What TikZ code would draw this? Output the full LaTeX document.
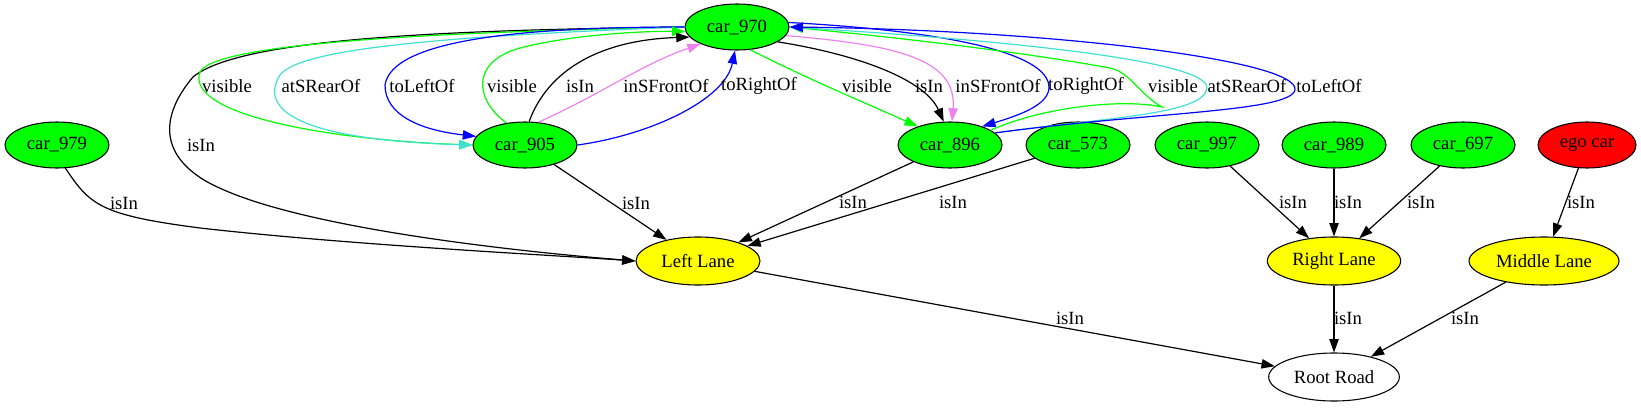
\documentclass[tikz,border=0pt]{standalone}
\usepackage{fontspec}
\setmainfont{Liberation Serif}
\usetikzlibrary{shapes,arrows.meta,positioning}
\definecolor{xgreen}{RGB}{0,255,0}
\definecolor{xturq}{RGB}{64,224,208}
\definecolor{xviolet}{RGB}{238,130,238}
\definecolor{xred}{RGB}{255,0,0}
\definecolor{xyellow}{RGB}{255,255,0}

\begin{document}
\begin{tikzpicture}[x=0.75pt,y=-0.75pt,
    every node/.style={font=\fontsize{14}{16}\selectfont},
    car/.style={ellipse,draw,fill=xgreen,line width=0.8pt,minimum width=78pt,minimum height=34.5pt,inner sep=0pt},
    lane/.style={ellipse,draw,fill=xyellow,line width=0.8pt,minimum height=36pt,inner sep=0pt},
    lbl/.style={text=black,inner sep=0pt},
    edge/.style={line width=0.9pt,-{Triangle[length=10pt,width=7pt]}}]
    \useasboundingbox (0,0) rectangle (1641,407);
    % cars
    \node[car] (car970) at (737,27) {car\_970};
    \node[car] (car979) at (57,145) {car\_979};
    \node[car] (car905) at (525,145) {car\_905};
    \node[car] (car896) at (950,145) {car\_896};
    \node[car] (car573) at (1078,145) {car\_573};
    \node[car] (car997) at (1207,145) {car\_997};
    \node[car] (car989) at (1334,145) {car\_989};
    \node[car] (car697) at (1463,145) {car\_697};
    \node[car,fill=xred,minimum width=73.5pt] (egocar) at (1587,145) {ego car};
    % lanes
    \node[lane,minimum width=93pt] (leftlane) at (698,261) {Left Lane};
    \node[lane,minimum width=100pt] (rightlane) at (1334,261) {Right Lane};
    \node[lane,minimum width=112.5pt] (middlelane) at (1544,261) {Middle Lane};
    \node[lane,fill=white,minimum width=98pt] (rootroad) at (1334,377) {Root Road};

    % car_970 -> left side
    \draw[edge] (car970.west) .. controls (450,30) and (240,38) .. (193,77)
        .. controls (165,110) and (155,150) .. (204,180)
        .. controls (280,225) and (500,250) .. (leftlane.west) node[lbl] at (201,145) {isIn};
    \draw[edge,xgreen] (car970.west) .. controls (450,32) and (215,42) .. (200,72)
        .. controls (185,115) and (330,140) .. (car905.west) node[lbl] at (227,86) {visible};
    \draw[edge,xturq] (car970.west) .. controls (450,36) and (300,48) .. (280,75)
        .. controls (258,110) and (300,140) .. (car905.west) node[lbl] at (321,86) {atSRearOf};
    \draw[edge,blue] (car970.west) .. controls (520,27) and (392,40) .. (385,85)
        .. controls (385,115) and (420,130) .. (car905.170) node[lbl] at (422,86) {toLeftOf};
    % car_905 -> car_970
    \draw[edge,xgreen] (car905.130) .. controls (475,100) and (470,62) .. (520,48)
        .. controls (570,35) and (640,31) .. (car970.185) node[lbl] at (512,86) {visible};
    \draw[edge] (car905.80) .. controls (548,70) and (600,40) .. (car970.192) node[lbl] at (580,86) {isIn};
    \draw[edge,xviolet] (car905.60) .. controls (600,95) and (640,65) .. (car970.205) node[lbl] at (666,86) {inSFrontOf};
    \draw[edge,blue] (car905.east) .. controls (650,135) and (725,100) .. (car970.265) node[lbl] at (759,86) {toRightOf};
    % car_970 -> car_896
    \draw[edge,xgreen] (car970.300) .. controls (810,80) and (870,105) .. (car896.150) node[lbl] at (867,86) {visible};
    \draw[edge] (car970.340) .. controls (860,55) and (925,80) .. (car896.105) node[lbl] at (929,86) {isIn};
    \draw[edge,xviolet] (car970.350) .. controls (900,45) and (957,60) .. (car896.85) node[lbl] at (998,86) {inSFrontOf};
    \draw[edge,blue] (car970.5) .. controls (930,30) and (1050,50) .. (1049,88)
        .. controls (1048,105) and (1020,115) .. (car896.30) node[lbl] at (1086,86) {toRightOf};
    % car_896 -> car_970
    \draw[edge,xgreen] (car896.20) .. controls (1040,108) and (1120,98) .. (1162,107)
        .. controls (1140,95) and (1130,72) .. (1110,68)
        .. controls (1000,48) and (850,33) .. (car970.east) node[lbl] at (1173,86) {visible};
    \draw[edge,xturq] (car896.15) .. controls (1100,118) and (1205,115) .. (1207,88)
        .. controls (1208,60) and (1000,40) .. (car970.east) node[lbl] at (1247,86) {atSRearOf};
    \draw[edge,blue] (car896.15) .. controls (1150,112) and (1290,112) .. (1295,90)
        .. controls (1300,60) and (1050,30) .. (car970.east) node[lbl] at (1329,86) {toLeftOf};

    % isIn lanes
    \draw[edge] (car979.290) .. controls (90,205) and (100,215) .. (200,228)
        .. controls (350,245) and (550,255) .. (leftlane.west) node[lbl] at (124,203) {isIn};
    \draw[edge] (car905) -- (leftlane) node[lbl] at (636,203) {isIn};
    \draw[edge] (car896) -- (leftlane) node[lbl] at (853,202) {isIn};
    \draw[edge] (car573) -- (leftlane) node[lbl] at (953,202) {isIn};
    \draw[edge] (car997) -- (rightlane) node[lbl] at (1293,202) {isIn};
    \draw[edge] (car989) -- (rightlane) node[lbl] at (1348,202) {isIn};
    \draw[edge] (car697) -- (rightlane) node[lbl] at (1421,202) {isIn};
    \draw[edge] (egocar) -- (middlelane) node[lbl] at (1581,202) {isIn};
    % lanes in road
    \draw[edge] (leftlane) -- (rootroad) node[lbl] at (1070,318) {isIn};
    \draw[edge] (rightlane) -- (rootroad) node[lbl] at (1348,318) {isIn};
    \draw[edge] (middlelane) -- (rootroad) node[lbl] at (1465,318) {isIn};
\end{tikzpicture}
\end{document}
